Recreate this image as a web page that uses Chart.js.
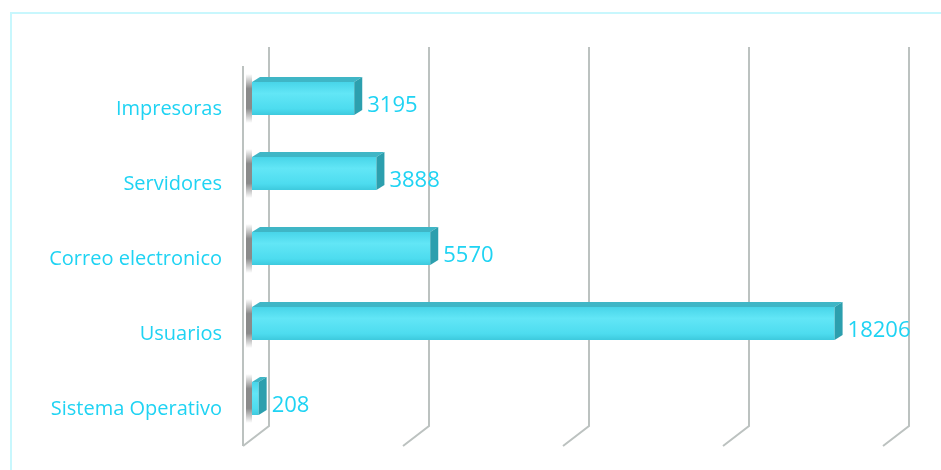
<!DOCTYPE html>
<html>
<head>
<meta charset="utf-8">
<script src="https://cdn.jsdelivr.net/npm/chart.js@4.4.1/dist/chart.umd.min.js"></script>
<style>
  html, body { margin: 0; padding: 0; background: #fff; }
</style>
</head>
<body>
<canvas id="chart" width="941" height="470"></canvas>
<script>
// chart data
const categories = ['Impresoras', 'Servidores', 'Correo electronico', 'Usuarios', 'Sistema Operativo'];
const values = [3195, 3888, 5570, 18206, 208];
const gridValues = [0, 5000, 10000, 15000, 20000];

const textColor = '#1fd3f3';
const font = "'Open Sans', sans-serif";

// back wall, floor and side wall lines (3D look)
const wallPlugin = {
    id: 'walls',
    beforeDraw(chart) {
        const ctx = chart.ctx;
        // light cyan frame
        ctx.save();
        ctx.strokeStyle = '#c8f7fd';
        ctx.lineWidth = 2;
        ctx.strokeRect(11, 13, chart.width + 10, chart.height + 10);
        ctx.restore();
    },
    beforeDatasetsDraw(chart) {
        const ctx = chart.ctx;
        const area = chart.chartArea;
        const xs = chart.scales.x;
        const top = area.top - 14, bottom = area.bottom - 10, floor = area.bottom + 10;
        ctx.save();
        ctx.lineWidth = 2;
        ctx.strokeStyle = '#bcc2c0';
        gridValues.forEach(v => {
            const px = xs.getPixelForValue(v);
            ctx.beginPath();
            ctx.moveTo(px + 17, top);
            ctx.lineTo(px + 17, bottom);
            ctx.lineTo(px - 9, floor);
            ctx.stroke();
        });
        // left side wall front edge
        const p0 = xs.getPixelForValue(0);
        ctx.beginPath();
        ctx.moveTo(p0 - 9, area.top + 5);
        ctx.lineTo(p0 - 9, floor);
        ctx.stroke();
        // shadows of bars on side wall
        const meta = chart.getDatasetMeta(0);
        meta.data.forEach(bar => {
            const h = bar.height;
            const g = ctx.createLinearGradient(0, bar.y - h / 2 - 8, 0, bar.y + h / 2 + 8);
            g.addColorStop(0, 'rgba(60,60,60,0)');
            g.addColorStop(0.3, 'rgba(60,60,60,0.6)');
            g.addColorStop(0.7, 'rgba(60,60,60,0.6)');
            g.addColorStop(1, 'rgba(60,60,60,0)');
            ctx.fillStyle = g;
            ctx.fillRect(p0 - 6, bar.y - h / 2 - 8, 6, h + 16);
        });
        ctx.restore();
    },
    afterDatasetsDraw(chart) {
        const ctx = chart.ctx;
        const meta = chart.getDatasetMeta(0);
        const dx = 8, dy = -5;
        ctx.save();
        meta.data.forEach((bar, i) => {
            const h = bar.height;
            const t = bar.y - h / 2, b = bar.y + h / 2;
            const l = bar.base, r = bar.x;
            // top face
            ctx.fillStyle = '#3fb6c6';
            ctx.beginPath();
            ctx.moveTo(l, t);
            ctx.lineTo(l + dx, t + dy);
            ctx.lineTo(r + dx, t + dy);
            ctx.lineTo(r, t);
            ctx.closePath();
            ctx.fill();
            // end face
            ctx.fillStyle = '#2c9fae';
            ctx.beginPath();
            ctx.moveTo(r, t);
            ctx.lineTo(r + dx, t + dy);
            ctx.lineTo(r + dx, b + dy);
            ctx.lineTo(r, b);
            ctx.closePath();
            ctx.fill();
            // value label
            ctx.fillStyle = textColor;
            ctx.font = '22px ' + font;
            ctx.textAlign = 'left';
            ctx.textBaseline = 'middle';
            ctx.fillText(String(values[i]), r + dx + 5, bar.y + 7);
        });
        ctx.restore();
    }
};

new Chart(document.getElementById('chart'), {
    type: 'bar',
    data: {
        labels: categories,
        datasets: [{
            data: values,
            backgroundColor(c) {
                const chart = c.chart;
                if (!chart.chartArea || c.type !== 'data') return '#4ddcef';
                const y = chart.scales.y.getPixelForValue(c.dataIndex);
                const g = chart.ctx.createLinearGradient(0, y - 17, 0, y + 17);
                g.addColorStop(0, '#46d4e8');
                g.addColorStop(0.35, '#62e6f6');
                g.addColorStop(0.8, '#4ddcef');
                g.addColorStop(1, '#3cc8dc');
                return g;
            },
            borderWidth: 0,
            barPercentage: 0.44,
            categoryPercentage: 1
        }]
    },
    options: {
        indexAxis: 'y',
        responsive: false,
        animation: false,
        layout: { padding: { top: 61, right: 49, bottom: 34, left: 0 } },
        plugins: { legend: { display: false }, tooltip: { enabled: false } },
        scales: {
            x: { display: false, min: 0, max: 20000 },
            y: {
                afterFit(scale) {
                    scale.width = 252;
                    scale.paddingTop = 0;
                    scale.paddingBottom = 0;
                },
                grid: { display: false, drawTicks: false },
                border: { display: false },
                ticks: {
                    color: textColor,
                    font: { family: font, size: 20 },
                    padding: 30,
                    labelOffset: 11
                }
            }
        }
    },
    plugins: [wallPlugin]
});
</script>
</body>
</html>
